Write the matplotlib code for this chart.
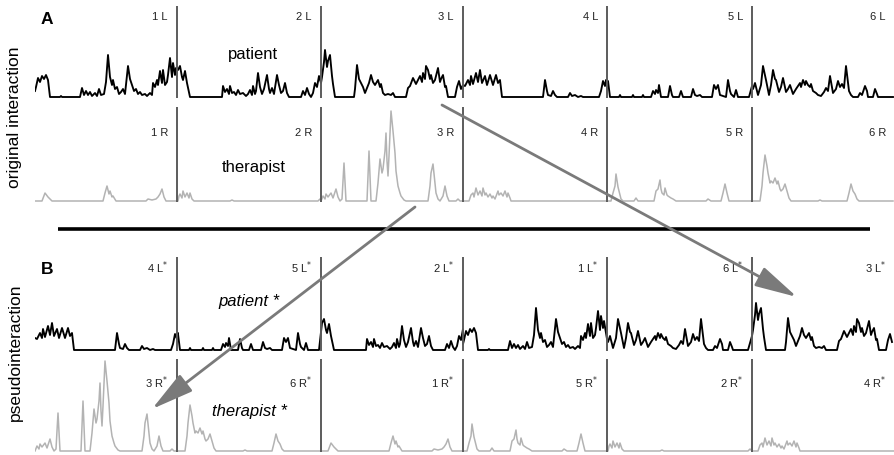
import numpy as np
import matplotlib.pyplot as plt

plt.rcParams['font.family'] = ['Liberation Sans', 'DejaVu Sans']

# segment borders (frames) and the order of the segments in the pseudointeraction
seg_edges = [0, 142, 286, 428, 572, 717, 860]
pseudo_patient_order = [4, 5, 2, 1, 6, 3]
pseudo_therapist_order = [3, 6, 1, 5, 2, 4]

# patient (L) movement, per segment: (frame, value)
patient_1 = [(0, 6), (1, 10), (3, 19), (5, 15), (7, 21), (9, 18), (11, 22), (13, 17), (15, 0), (25, 0), (26, 1), (27, 0),
             (45, 0), (47, 9), (49, 2), (51, 6), (53, 2), (55, 5), (57, 1), (60, 4), (62, 1), (64, 8), (66, 2), (69, 3),
             (71, 15), (73, 42), (75, 20), (77, 12), (78, 17), (80, 8), (82, 10), (84, 3), (86, 5), (88, 8), (90, 3),
             (93, 31), (95, 18), (97, 12), (99, 6), (101, 8), (103, 3), (105, 5), (107, 2), (110, 3), (112, 1), (115, 4),
             (117, 2), (118, 14), (120, 10), (122, 17), (123, 12), (125, 26), (127, 14), (128, 27), (130, 12), (132, 15),
             (133, 22), (135, 39), (137, 20), (138, 34), (140, 22), (141, 29)]
patient_2 = [(143, 27), (145, 31), (147, 20), (148, 17), (150, 26), (152, 14), (155, 0), (187, 0), (188, 11), (190, 5),
             (192, 8), (194, 3), (195, 11), (197, 4), (199, 5), (201, 2), (203, 7), (205, 3), (208, 4), (211, 1), (213, 3),
             (215, 7), (217, 2), (218, 11), (220, 3), (221, 6), (223, 24), (225, 10), (227, 3), (229, 8), (232, 22),
             (234, 8), (235, 4), (237, 9), (239, 3), (242, 22), (244, 12), (246, 4), (248, 6), (250, 14), (252, 4),
             (254, 0), (266, 0), (268, 6), (270, 2), (272, 9), (274, 3), (276, 0), (278, 4), (280, 14), (282, 10), (284, 21)]
patient_3 = [(286, 14), (287, 20), (289, 35), (290, 47), (292, 30), (293, 36), (295, 42), (297, 21), (298, 13), (300, 0),
             (319, 0), (320, 8), (322, 32), (324, 18), (326, 14), (328, 10), (330, 4), (332, 9), (334, 14), (336, 22),
             (338, 15), (340, 12), (343, 17), (345, 10), (346, 13), (348, 4), (350, 2), (353, 3), (356, 2), (358, 4),
             (360, 0), (371, 0), (373, 9), (375, 11), (378, 19), (381, 13), (383, 17), (385, 21), (387, 15), (388, 24),
             (390, 18), (391, 31), (393, 27), (395, 18), (396, 22), (398, 14), (400, 17), (403, 29), (405, 15), (406, 18),
             (408, 22), (410, 10), (411, 11), (413, 0), (420, 0), (422, 10), (424, 16), (426, 8)]
patient_4 = [(428, 12), (430, 11), (433, 17), (435, 12), (436, 21), (438, 13), (441, 24), (443, 15), (445, 27), (447, 14),
             (450, 21), (452, 12), (455, 22), (458, 12), (461, 22), (463, 14), (465, 17), (467, 0), (508, 0), (510, 17),
             (512, 6), (513, 2), (516, 1), (518, 6), (520, 2), (522, 0), (533, 0), (535, 4), (537, 1), (540, 2), (543, 0),
             (546, 1), (548, 0), (564, 0), (566, 6), (568, 16), (570, 11), (571, 17)]
patient_5 = [(572, 14), (573, 16), (575, 0), (584, 0), (585, 2), (586, 0), (597, 0), (598, 2), (599, 0), (607, 0), (608, 2),
             (609, 0), (616, 0), (618, 6), (620, 3), (621, 7), (623, 4), (624, 12), (626, 0), (633, 0), (635, 11), (637, 2),
             (638, 0), (644, 0), (646, 6), (648, 0), (656, 0), (658, 8), (660, 2), (662, 1), (665, 2), (667, 0), (677, 0),
             (679, 12), (681, 8), (683, 12), (685, 2), (691, 0), (693, 17), (695, 6), (696, 3), (699, 0), (701, 7), (703, 0),
             (714, 0)]
patient_6 = [(717, 11), (718, 8), (720, 14), (723, 2), (726, 12), (728, 31), (730, 22), (731, 17), (734, 2), (736, 12),
             (738, 27), (740, 18), (741, 17), (744, 5), (746, 10), (748, 19), (751, 5), (753, 8), (755, 12), (758, 3),
             (761, 8), (763, 11), (765, 14), (766, 10), (768, 17), (770, 12), (771, 16), (773, 12), (775, 10), (776, 13),
             (778, 6), (781, 4), (783, 2), (786, 1), (789, 5), (791, 9), (793, 6), (795, 21), (797, 10), (798, 4), (801, 8),
             (803, 16), (805, 10), (807, 13), (809, 9), (811, 31), (813, 14), (814, 6), (816, 2), (818, 0), (823, 0),
             (825, 4), (827, 2), (830, 11), (832, 6), (833, 0), (838, 0), (840, 8), (842, 3), (843, 0), (858, 0)]

# therapist (R) movement, per segment: (frame, value)
therapist_1 = [(0, 0), (7, 0), (10, 8), (13, 4), (17, 0), (68, 0), (70, 8), (72, 15), (74, 7), (75, 10), (77, 4), (78, 5),
               (81, 0), (111, 0), (113, 2), (117, 1), (121, 2), (123, 4), (125, 7), (127, 12), (129, 4), (131, 0), (141, 0)]
therapist_2 = [(143, 0), (144, 5), (145, 7), (147, 3), (148, 10), (150, 4), (152, 8), (154, 3), (155, 8), (157, 2),
               (159, 0), (195, 0), (197, 1), (199, 0), (283, 0), (285, 2)]
therapist_3 = [(286, 0), (288, 5), (290, 2), (291, 7), (293, 4), (296, 8), (298, 3), (301, 12), (303, 4), (305, 0),
               (307, 2), (309, 38), (311, 0), (332, 0), (334, 50), (336, 0), (341, 0), (343, 18), (344, 30), (345, 42),
               (347, 28), (348, 32), (350, 50), (351, 68), (352, 40), (353, 25), (354, 45), (356, 90), (358, 70),
               (360, 48), (361, 30), (363, 15), (365, 8), (366, 5), (369, 1), (371, 0), (393, 0), (395, 15), (396, 28),
               (398, 37), (400, 18), (401, 8), (403, 2), (405, 0), (408, 5), (410, 15), (412, 5), (414, 0), (421, 0),
               (423, 2), (425, 0)]
therapist_4 = [(428, 0), (434, 0), (436, 6), (438, 8), (439, 4), (441, 13), (443, 6), (445, 10), (447, 5), (448, 13),
               (450, 6), (451, 8), (453, 4), (455, 7), (457, 3), (458, 5), (460, 2), (463, 10), (464, 6), (466, 8),
               (468, 5), (470, 10), (472, 4), (473, 8), (475, 3), (476, 0), (571, 0)]
therapist_5 = [(572, 0), (576, 0), (578, 8), (580, 15), (581, 27), (583, 14), (584, 10), (586, 2), (588, 0), (599, 0),
               (601, 3), (603, 0), (619, 0), (621, 10), (623, 12), (625, 21), (626, 12), (627, 8), (629, 6), (630, 13),
               (632, 6), (633, 5), (636, 3), (638, 2), (641, 0), (671, 0), (673, 2), (676, 0), (686, 0), (688, 8),
               (690, 17), (692, 8), (694, 0), (716, 0)]
therapist_6 = [(717, 0), (725, 0), (727, 15), (728, 28), (730, 46), (732, 35), (733, 28), (735, 18), (736, 20), (738, 18),
               (740, 23), (742, 17), (743, 20), (745, 12), (746, 10), (748, 12), (750, 17), (752, 10), (754, 3), (756, 0),
               (783, 0), (785, 1), (787, 0), (812, 0), (814, 8), (816, 17), (818, 10), (820, 7), (822, 2), (824, 0), (858, 0)]

patient_segs = [patient_1, patient_2, patient_3, patient_4, patient_5, patient_6]
therapist_segs = [therapist_1, therapist_2, therapist_3, therapist_4, therapist_5, therapist_6]


def series(segs, order):
    t, v = [], []
    for slot, seg in enumerate(order):
        d = np.array(segs[seg - 1], dtype=float)
        t.append(d[:, 0] - seg_edges[seg - 1] + seg_edges[slot])
        v.append(d[:, 1])
    return np.concatenate(t), np.concatenate(v)


W, H = 895, 456
fig = plt.figure(figsize=(W / 100, H / 100), dpi=100)

# (top, baseline) of each strip in pixels, label side, star, colour, data, order, label offset
rows = [
    (7, 99, 'L', False, '#000000', patient_segs, [1, 2, 3, 4, 5, 6], 10),
    (108, 203, 'R', False, '#b3b3b3', therapist_segs, [1, 2, 3, 4, 5, 6], 25),
    (258, 352, 'L', True, '#000000', patient_segs, pseudo_patient_order, 10),
    (360, 453, 'R', True, '#b3b3b3', therapist_segs, pseudo_therapist_order, 23),
]

for top, base, side, star, col, segs, order, lab_off in rows:
    ax = fig.add_axes([35 / W, (H - base) / H, 860 / W, (base - top) / H])
    ax.set_xlim(0, 860)
    ax.set_ylim(-1, base - top - 1)
    ax.axis('off')
    t, v = series(segs, order)
    ax.plot(t, v, color=col, lw=1.35 if col == '#000000' else 1.1, solid_joinstyle='round')
    for e in seg_edges[1:-1]:
        ax.axvline(e, color='#5c5c5c', lw=1.4)
    for slot, seg in enumerate(order):
        if star:
            lab = f'{seg} {side}$^{{*}}$'
        else:
            lab = f'{seg} {side}'
        ax.text(seg_edges[slot + 1] - 9, base - top - 1 - lab_off, lab, ha='right', va='center',
                fontsize=8, color='#222222')

# overlay for titles, separator and arrows
ov = fig.add_axes([0, 0, 1, 1])
ov.set_xlim(0, W)
ov.set_ylim(H, 0)
ov.axis('off')
ov.patch.set_alpha(0)

ov.text(47, 20, 'A', fontsize=12.5, fontweight='bold', ha='center', va='center')
ov.text(47, 270, 'B', fontsize=12.5, fontweight='bold', ha='center', va='center')
ov.text(15, 117, 'original interaction', rotation=90, fontsize=12.5, ha='center', va='center')
ov.text(15, 352, 'pseudointeraction', rotation=90, fontsize=12.5, ha='center', va='center')
ov.text(253, 55, 'patient', fontsize=12, ha='center', va='center')
ov.text(254, 168, 'therapist', fontsize=12, ha='center', va='center')
ov.text(249, 302, 'patient *', fontsize=12, style='italic', ha='center', va='center')
ov.text(250, 412, 'therapist *', fontsize=12, style='italic', ha='center', va='center')

ov.plot([58, 870], [230, 230], color='black', lw=2.6, solid_capstyle='butt')

arrow = dict(arrowstyle='-|>,head_length=1.3,head_width=0.32', color='#7a7a7a', lw=2,
             mutation_scale=20, shrinkA=0, shrinkB=0)
ov.annotate('', xy=(797, 298), xytext=(442, 106), arrowprops=arrow)
ov.annotate('', xy=(152, 410), xytext=(415, 208), arrowprops=arrow)

fig.savefig('out.png', dpi=100)
